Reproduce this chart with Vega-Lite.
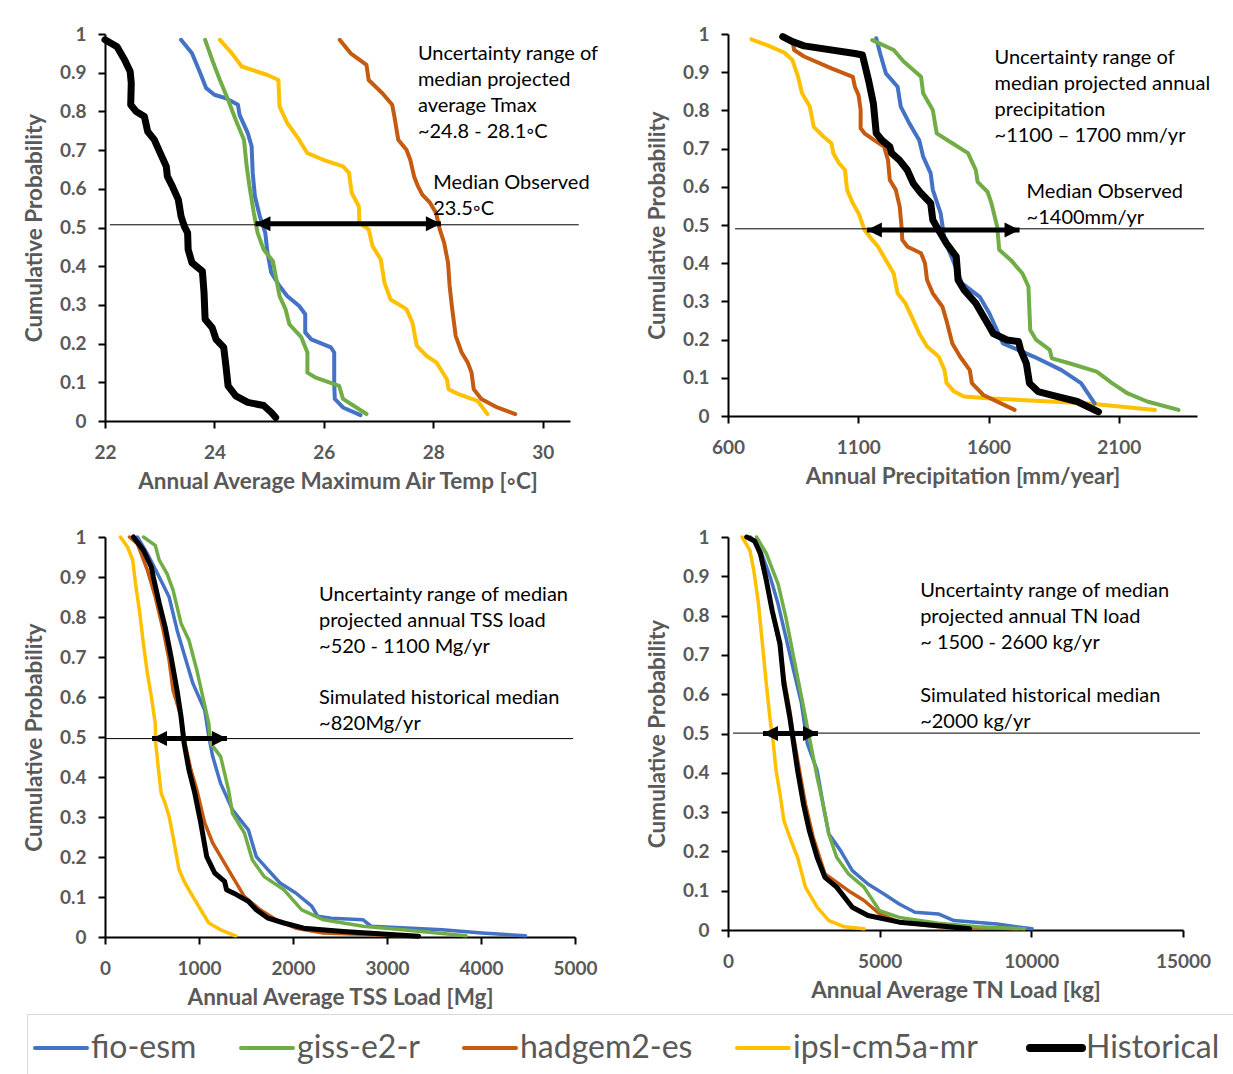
{
"$schema":"https://vega.github.io/schema/vega-lite/v6.json",
"background":"white",
"padding":{"left":23,"top":25,"right":5,"bottom":0},
"config":{
 "view":{"stroke":null},
 "font":"Lato",
 "axis":{"labelFont":"Lato","labelFontSize":19,"labelFontWeight":"bold","labelColor":"#595959","titleFont":"Lato","titleFontSize":22.5,"titleFontWeight":"bold","titleColor":"#595959","domainColor":"#000000","domainWidth":2,"tickColor":"#000000","tickWidth":2,"tickSize":7,"grid":false,"labelFlush":false,"labelOverlap":false,"labelSeparation":0},
 "axisX":{"labelPadding":15,"titlePadding":8,"format":"d"},
 "axisY":{"labelPadding":12,"titlePadding":13},
 "legend":{"orient":"none","legendX":-78,"legendY":980,"direction":"horizontal","title":null,"symbolType":"stroke","symbolSize":2704,"symbolStrokeWidth":4,"labelFont":"Lato","labelFontSize":32,"labelColor":"#595959","labelLimit":400,"labelOffset":14,"columnPadding":36,"strokeColor":"#d9d9d9","padding":18},
 "text":{"font":"Lato","fontSize":20,"color":"#000000","align":"left","baseline":"top","lineHeight":26}
},
"datasets":{
 "curves":[
{"panel":1,"series":"Historical","x":22.0,"p":0.985},{"panel":1,"series":"Historical","x":22.22,"p":0.967},{"panel":1,"series":"Historical","x":22.36,"p":0.933},{"panel":1,"series":"Historical","x":22.46,"p":0.903},{"panel":1,"series":"Historical","x":22.48,"p":0.873},{"panel":1,"series":"Historical","x":22.47,"p":0.817},{"panel":1,"series":"Historical","x":22.57,"p":0.8},{"panel":1,"series":"Historical","x":22.72,"p":0.787},{"panel":1,"series":"Historical","x":22.78,"p":0.748},{"panel":1,"series":"Historical","x":22.9,"p":0.727},{"panel":1,"series":"Historical","x":23.01,"p":0.692},{"panel":1,"series":"Historical","x":23.12,"p":0.658},{"panel":1,"series":"Historical","x":23.14,"p":0.632},{"panel":1,"series":"Historical","x":23.23,"p":0.607},{"panel":1,"series":"Historical","x":23.34,"p":0.572},{"panel":1,"series":"Historical","x":23.39,"p":0.529},{"panel":1,"series":"Historical","x":23.45,"p":0.503},{"panel":1,"series":"Historical","x":23.51,"p":0.486},{"panel":1,"series":"Historical","x":23.52,"p":0.443},{"panel":1,"series":"Historical","x":23.59,"p":0.409},{"panel":1,"series":"Historical","x":23.78,"p":0.387},{"panel":1,"series":"Historical","x":23.81,"p":0.332},{"panel":1,"series":"Historical","x":23.83,"p":0.263},{"panel":1,"series":"Historical","x":23.96,"p":0.241},{"panel":1,"series":"Historical","x":24.03,"p":0.211},{"panel":1,"series":"Historical","x":24.17,"p":0.19},{"panel":1,"series":"Historical","x":24.21,"p":0.143},{"panel":1,"series":"Historical","x":24.25,"p":0.091},{"panel":1,"series":"Historical","x":24.39,"p":0.065},{"panel":1,"series":"Historical","x":24.61,"p":0.048},{"panel":1,"series":"Historical","x":24.9,"p":0.04},{"panel":1,"series":"Historical","x":25.04,"p":0.022},{"panel":1,"series":"Historical","x":25.12,"p":0.009},
{"panel":1,"series":"fio-esm","x":23.39,"p":0.985},{"panel":1,"series":"fio-esm","x":23.59,"p":0.95},{"panel":1,"series":"fio-esm","x":23.74,"p":0.899},{"panel":1,"series":"fio-esm","x":23.85,"p":0.86},{"panel":1,"series":"fio-esm","x":24.0,"p":0.843},{"panel":1,"series":"fio-esm","x":24.21,"p":0.834},{"panel":1,"series":"fio-esm","x":24.43,"p":0.817},{"panel":1,"series":"fio-esm","x":24.46,"p":0.791},{"panel":1,"series":"fio-esm","x":24.61,"p":0.744},{"panel":1,"series":"fio-esm","x":24.68,"p":0.71},{"panel":1,"series":"fio-esm","x":24.7,"p":0.641},{"panel":1,"series":"fio-esm","x":24.74,"p":0.581},{"panel":1,"series":"fio-esm","x":24.83,"p":0.529},{"panel":1,"series":"fio-esm","x":24.93,"p":0.486},{"panel":1,"series":"fio-esm","x":24.97,"p":0.435},{"panel":1,"series":"fio-esm","x":25.04,"p":0.383},{"panel":1,"series":"fio-esm","x":25.19,"p":0.349},{"panel":1,"series":"fio-esm","x":25.33,"p":0.323},{"panel":1,"series":"fio-esm","x":25.55,"p":0.297},{"panel":1,"series":"fio-esm","x":25.66,"p":0.276},{"panel":1,"series":"fio-esm","x":25.66,"p":0.229},{"panel":1,"series":"fio-esm","x":25.77,"p":0.211},{"panel":1,"series":"fio-esm","x":26.13,"p":0.19},{"panel":1,"series":"fio-esm","x":26.19,"p":0.177},{"panel":1,"series":"fio-esm","x":26.19,"p":0.1},{"panel":1,"series":"fio-esm","x":26.2,"p":0.057},{"panel":1,"series":"fio-esm","x":26.35,"p":0.035},{"panel":1,"series":"fio-esm","x":26.67,"p":0.015},
{"panel":1,"series":"giss-e2-r","x":23.83,"p":0.985},{"panel":1,"series":"giss-e2-r","x":23.96,"p":0.933},{"panel":1,"series":"giss-e2-r","x":24.1,"p":0.881},{"panel":1,"series":"giss-e2-r","x":24.25,"p":0.83},{"panel":1,"series":"giss-e2-r","x":24.39,"p":0.778},{"panel":1,"series":"giss-e2-r","x":24.54,"p":0.727},{"panel":1,"series":"giss-e2-r","x":24.59,"p":0.658},{"panel":1,"series":"giss-e2-r","x":24.64,"p":0.607},{"panel":1,"series":"giss-e2-r","x":24.72,"p":0.538},{"panel":1,"series":"giss-e2-r","x":24.79,"p":0.486},{"panel":1,"series":"giss-e2-r","x":24.9,"p":0.443},{"panel":1,"series":"giss-e2-r","x":25.07,"p":0.413},{"panel":1,"series":"giss-e2-r","x":25.12,"p":0.375},{"panel":1,"series":"giss-e2-r","x":25.19,"p":0.323},{"panel":1,"series":"giss-e2-r","x":25.3,"p":0.289},{"panel":1,"series":"giss-e2-r","x":25.37,"p":0.25},{"panel":1,"series":"giss-e2-r","x":25.59,"p":0.216},{"panel":1,"series":"giss-e2-r","x":25.7,"p":0.177},{"panel":1,"series":"giss-e2-r","x":25.7,"p":0.125},{"panel":1,"series":"giss-e2-r","x":25.84,"p":0.113},{"panel":1,"series":"giss-e2-r","x":26.28,"p":0.091},{"panel":1,"series":"giss-e2-r","x":26.35,"p":0.057},{"panel":1,"series":"giss-e2-r","x":26.78,"p":0.018},
{"panel":1,"series":"hadgem2-es","x":26.29,"p":0.985},{"panel":1,"series":"hadgem2-es","x":26.49,"p":0.95},{"panel":1,"series":"hadgem2-es","x":26.78,"p":0.92},{"panel":1,"series":"hadgem2-es","x":26.82,"p":0.881},{"panel":1,"series":"hadgem2-es","x":27.07,"p":0.847},{"panel":1,"series":"hadgem2-es","x":27.25,"p":0.817},{"panel":1,"series":"hadgem2-es","x":27.29,"p":0.787},{"panel":1,"series":"hadgem2-es","x":27.36,"p":0.727},{"panel":1,"series":"hadgem2-es","x":27.51,"p":0.701},{"panel":1,"series":"hadgem2-es","x":27.58,"p":0.675},{"panel":1,"series":"hadgem2-es","x":27.65,"p":0.632},{"panel":1,"series":"hadgem2-es","x":27.72,"p":0.607},{"panel":1,"series":"hadgem2-es","x":27.8,"p":0.585},{"panel":1,"series":"hadgem2-es","x":27.94,"p":0.564},{"panel":1,"series":"hadgem2-es","x":28.05,"p":0.538},{"panel":1,"series":"hadgem2-es","x":28.12,"p":0.495},{"panel":1,"series":"hadgem2-es","x":28.2,"p":0.46},{"panel":1,"series":"hadgem2-es","x":28.27,"p":0.409},{"panel":1,"series":"hadgem2-es","x":28.3,"p":0.349},{"panel":1,"series":"hadgem2-es","x":28.34,"p":0.297},{"panel":1,"series":"hadgem2-es","x":28.41,"p":0.22},{"panel":1,"series":"hadgem2-es","x":28.52,"p":0.177},{"panel":1,"series":"hadgem2-es","x":28.63,"p":0.151},{"panel":1,"series":"hadgem2-es","x":28.7,"p":0.125},{"panel":1,"series":"hadgem2-es","x":28.74,"p":0.082},{"panel":1,"series":"hadgem2-es","x":28.88,"p":0.057},{"panel":1,"series":"hadgem2-es","x":29.17,"p":0.035},{"panel":1,"series":"hadgem2-es","x":29.5,"p":0.018},
{"panel":1,"series":"ipsl-cm5a-mr","x":24.1,"p":0.985},{"panel":1,"series":"ipsl-cm5a-mr","x":24.32,"p":0.95},{"panel":1,"series":"ipsl-cm5a-mr","x":24.5,"p":0.916},{"panel":1,"series":"ipsl-cm5a-mr","x":24.97,"p":0.894},{"panel":1,"series":"ipsl-cm5a-mr","x":25.17,"p":0.881},{"panel":1,"series":"ipsl-cm5a-mr","x":25.19,"p":0.813},{"panel":1,"series":"ipsl-cm5a-mr","x":25.33,"p":0.77},{"panel":1,"series":"ipsl-cm5a-mr","x":25.51,"p":0.735},{"panel":1,"series":"ipsl-cm5a-mr","x":25.7,"p":0.692},{"panel":1,"series":"ipsl-cm5a-mr","x":25.99,"p":0.675},{"panel":1,"series":"ipsl-cm5a-mr","x":26.35,"p":0.658},{"panel":1,"series":"ipsl-cm5a-mr","x":26.46,"p":0.641},{"panel":1,"series":"ipsl-cm5a-mr","x":26.51,"p":0.589},{"panel":1,"series":"ipsl-cm5a-mr","x":26.64,"p":0.555},{"panel":1,"series":"ipsl-cm5a-mr","x":26.65,"p":0.512},{"panel":1,"series":"ipsl-cm5a-mr","x":26.82,"p":0.495},{"panel":1,"series":"ipsl-cm5a-mr","x":26.89,"p":0.452},{"panel":1,"series":"ipsl-cm5a-mr","x":27.04,"p":0.418},{"panel":1,"series":"ipsl-cm5a-mr","x":27.11,"p":0.357},{"panel":1,"series":"ipsl-cm5a-mr","x":27.22,"p":0.314},{"panel":1,"series":"ipsl-cm5a-mr","x":27.51,"p":0.289},{"panel":1,"series":"ipsl-cm5a-mr","x":27.62,"p":0.254},{"panel":1,"series":"ipsl-cm5a-mr","x":27.7,"p":0.194},{"panel":1,"series":"ipsl-cm5a-mr","x":27.88,"p":0.168},{"panel":1,"series":"ipsl-cm5a-mr","x":28.06,"p":0.151},{"panel":1,"series":"ipsl-cm5a-mr","x":28.25,"p":0.108},{"panel":1,"series":"ipsl-cm5a-mr","x":28.28,"p":0.082},{"panel":1,"series":"ipsl-cm5a-mr","x":28.45,"p":0.07},{"panel":1,"series":"ipsl-cm5a-mr","x":28.81,"p":0.052},{"panel":1,"series":"ipsl-cm5a-mr","x":28.99,"p":0.018},
{"panel":2,"series":"ipsl-cm5a-mr","x":690,"p":0.986},{"panel":2,"series":"ipsl-cm5a-mr","x":757,"p":0.969},{"panel":2,"series":"ipsl-cm5a-mr","x":817,"p":0.951},{"panel":2,"series":"ipsl-cm5a-mr","x":847,"p":0.932},{"panel":2,"series":"ipsl-cm5a-mr","x":869,"p":0.888},{"panel":2,"series":"ipsl-cm5a-mr","x":884,"p":0.845},{"panel":2,"series":"ipsl-cm5a-mr","x":914,"p":0.81},{"panel":2,"series":"ipsl-cm5a-mr","x":929,"p":0.757},{"panel":2,"series":"ipsl-cm5a-mr","x":967,"p":0.731},{"panel":2,"series":"ipsl-cm5a-mr","x":997,"p":0.714},{"panel":2,"series":"ipsl-cm5a-mr","x":1004,"p":0.688},{"panel":2,"series":"ipsl-cm5a-mr","x":1027,"p":0.661},{"panel":2,"series":"ipsl-cm5a-mr","x":1049,"p":0.644},{"panel":2,"series":"ipsl-cm5a-mr","x":1057,"p":0.592},{"panel":2,"series":"ipsl-cm5a-mr","x":1079,"p":0.557},{"panel":2,"series":"ipsl-cm5a-mr","x":1101,"p":0.531},{"panel":2,"series":"ipsl-cm5a-mr","x":1124,"p":0.487},{"panel":2,"series":"ipsl-cm5a-mr","x":1154,"p":0.461},{"panel":2,"series":"ipsl-cm5a-mr","x":1176,"p":0.443},{"panel":2,"series":"ipsl-cm5a-mr","x":1206,"p":0.408},{"panel":2,"series":"ipsl-cm5a-mr","x":1236,"p":0.373},{"panel":2,"series":"ipsl-cm5a-mr","x":1251,"p":0.321},{"panel":2,"series":"ipsl-cm5a-mr","x":1281,"p":0.295},{"panel":2,"series":"ipsl-cm5a-mr","x":1311,"p":0.251},{"panel":2,"series":"ipsl-cm5a-mr","x":1334,"p":0.216},{"panel":2,"series":"ipsl-cm5a-mr","x":1364,"p":0.182},{"panel":2,"series":"ipsl-cm5a-mr","x":1409,"p":0.155},{"panel":2,"series":"ipsl-cm5a-mr","x":1431,"p":0.12},{"panel":2,"series":"ipsl-cm5a-mr","x":1439,"p":0.086},{"panel":2,"series":"ipsl-cm5a-mr","x":1468,"p":0.064},{"panel":2,"series":"ipsl-cm5a-mr","x":1506,"p":0.051},{"panel":2,"series":"ipsl-cm5a-mr","x":1610,"p":0.046},{"panel":2,"series":"ipsl-cm5a-mr","x":1985,"p":0.033},{"panel":2,"series":"ipsl-cm5a-mr","x":2239,"p":0.016},
{"panel":2,"series":"hadgem2-es","x":847,"p":0.984},{"panel":2,"series":"hadgem2-es","x":854,"p":0.958},{"panel":2,"series":"hadgem2-es","x":892,"p":0.941},{"panel":2,"series":"hadgem2-es","x":997,"p":0.91},{"panel":2,"series":"hadgem2-es","x":1079,"p":0.888},{"panel":2,"series":"hadgem2-es","x":1087,"p":0.862},{"panel":2,"series":"hadgem2-es","x":1101,"p":0.84},{"panel":2,"series":"hadgem2-es","x":1109,"p":0.801},{"panel":2,"series":"hadgem2-es","x":1109,"p":0.753},{"panel":2,"series":"hadgem2-es","x":1124,"p":0.74},{"panel":2,"series":"hadgem2-es","x":1161,"p":0.722},{"panel":2,"series":"hadgem2-es","x":1199,"p":0.705},{"panel":2,"series":"hadgem2-es","x":1214,"p":0.67},{"panel":2,"series":"hadgem2-es","x":1221,"p":0.618},{"panel":2,"series":"hadgem2-es","x":1244,"p":0.592},{"panel":2,"series":"hadgem2-es","x":1259,"p":0.548},{"panel":2,"series":"hadgem2-es","x":1266,"p":0.496},{"panel":2,"series":"hadgem2-es","x":1269,"p":0.461},{"panel":2,"series":"hadgem2-es","x":1289,"p":0.443},{"panel":2,"series":"hadgem2-es","x":1341,"p":0.426},{"panel":2,"series":"hadgem2-es","x":1356,"p":0.4},{"panel":2,"series":"hadgem2-es","x":1364,"p":0.356},{"panel":2,"series":"hadgem2-es","x":1386,"p":0.321},{"panel":2,"series":"hadgem2-es","x":1423,"p":0.286},{"panel":2,"series":"hadgem2-es","x":1438,"p":0.251},{"panel":2,"series":"hadgem2-es","x":1461,"p":0.19},{"panel":2,"series":"hadgem2-es","x":1491,"p":0.155},{"panel":2,"series":"hadgem2-es","x":1528,"p":0.12},{"panel":2,"series":"hadgem2-es","x":1536,"p":0.086},{"panel":2,"series":"hadgem2-es","x":1580,"p":0.055},{"panel":2,"series":"hadgem2-es","x":1700,"p":0.016},
{"panel":2,"series":"Historical","x":810,"p":0.993},{"panel":2,"series":"Historical","x":847,"p":0.98},{"panel":2,"series":"Historical","x":892,"p":0.969},{"panel":2,"series":"Historical","x":1087,"p":0.949},{"panel":2,"series":"Historical","x":1116,"p":0.945},{"panel":2,"series":"Historical","x":1139,"p":0.88},{"panel":2,"series":"Historical","x":1158,"p":0.818},{"panel":2,"series":"Historical","x":1169,"p":0.74},{"panel":2,"series":"Historical","x":1191,"p":0.722},{"panel":2,"series":"Historical","x":1221,"p":0.705},{"panel":2,"series":"Historical","x":1228,"p":0.688},{"panel":2,"series":"Historical","x":1258,"p":0.67},{"panel":2,"series":"Historical","x":1288,"p":0.644},{"panel":2,"series":"Historical","x":1311,"p":0.609},{"panel":2,"series":"Historical","x":1341,"p":0.583},{"panel":2,"series":"Historical","x":1378,"p":0.557},{"panel":2,"series":"Historical","x":1386,"p":0.513},{"panel":2,"series":"Historical","x":1408,"p":0.487},{"panel":2,"series":"Historical","x":1438,"p":0.452},{"panel":2,"series":"Historical","x":1476,"p":0.417},{"panel":2,"series":"Historical","x":1483,"p":0.356},{"panel":2,"series":"Historical","x":1506,"p":0.33},{"panel":2,"series":"Historical","x":1551,"p":0.295},{"panel":2,"series":"Historical","x":1581,"p":0.26},{"panel":2,"series":"Historical","x":1603,"p":0.234},{"panel":2,"series":"Historical","x":1618,"p":0.216},{"panel":2,"series":"Historical","x":1671,"p":0.199},{"panel":2,"series":"Historical","x":1715,"p":0.195},{"panel":2,"series":"Historical","x":1723,"p":0.173},{"panel":2,"series":"Historical","x":1745,"p":0.138},{"panel":2,"series":"Historical","x":1757,"p":0.086},{"panel":2,"series":"Historical","x":1790,"p":0.064},{"panel":2,"series":"Historical","x":1865,"p":0.051},{"panel":2,"series":"Historical","x":1940,"p":0.038},{"panel":2,"series":"Historical","x":2022,"p":0.011},
{"panel":2,"series":"fio-esm","x":1169,"p":0.989},{"panel":2,"series":"fio-esm","x":1184,"p":0.949},{"panel":2,"series":"fio-esm","x":1206,"p":0.897},{"panel":2,"series":"fio-esm","x":1251,"p":0.862},{"panel":2,"series":"fio-esm","x":1263,"p":0.81},{"panel":2,"series":"fio-esm","x":1296,"p":0.766},{"panel":2,"series":"fio-esm","x":1334,"p":0.722},{"panel":2,"series":"fio-esm","x":1349,"p":0.679},{"panel":2,"series":"fio-esm","x":1378,"p":0.635},{"panel":2,"series":"fio-esm","x":1386,"p":0.592},{"panel":2,"series":"fio-esm","x":1416,"p":0.531},{"panel":2,"series":"fio-esm","x":1431,"p":0.461},{"panel":2,"series":"fio-esm","x":1468,"p":0.4},{"panel":2,"series":"fio-esm","x":1498,"p":0.347},{"panel":2,"series":"fio-esm","x":1566,"p":0.312},{"panel":2,"series":"fio-esm","x":1603,"p":0.269},{"panel":2,"series":"fio-esm","x":1655,"p":0.19},{"panel":2,"series":"fio-esm","x":1775,"p":0.155},{"panel":2,"series":"fio-esm","x":1880,"p":0.12},{"panel":2,"series":"fio-esm","x":1955,"p":0.086},{"panel":2,"series":"fio-esm","x":2007,"p":0.033},
{"panel":2,"series":"giss-e2-r","x":1154,"p":0.984},{"panel":2,"series":"giss-e2-r","x":1236,"p":0.958},{"panel":2,"series":"giss-e2-r","x":1274,"p":0.928},{"panel":2,"series":"giss-e2-r","x":1341,"p":0.888},{"panel":2,"series":"giss-e2-r","x":1349,"p":0.845},{"panel":2,"series":"giss-e2-r","x":1386,"p":0.801},{"panel":2,"series":"giss-e2-r","x":1401,"p":0.74},{"panel":2,"series":"giss-e2-r","x":1461,"p":0.714},{"panel":2,"series":"giss-e2-r","x":1521,"p":0.688},{"panel":2,"series":"giss-e2-r","x":1551,"p":0.644},{"panel":2,"series":"giss-e2-r","x":1558,"p":0.613},{"panel":2,"series":"giss-e2-r","x":1596,"p":0.587},{"panel":2,"series":"giss-e2-r","x":1611,"p":0.557},{"panel":2,"series":"giss-e2-r","x":1633,"p":0.496},{"panel":2,"series":"giss-e2-r","x":1641,"p":0.435},{"panel":2,"series":"giss-e2-r","x":1686,"p":0.408},{"panel":2,"series":"giss-e2-r","x":1730,"p":0.373},{"panel":2,"series":"giss-e2-r","x":1753,"p":0.339},{"panel":2,"series":"giss-e2-r","x":1760,"p":0.225},{"panel":2,"series":"giss-e2-r","x":1783,"p":0.199},{"panel":2,"series":"giss-e2-r","x":1835,"p":0.173},{"panel":2,"series":"giss-e2-r","x":1843,"p":0.151},{"panel":2,"series":"giss-e2-r","x":1910,"p":0.138},{"panel":2,"series":"giss-e2-r","x":2015,"p":0.116},{"panel":2,"series":"giss-e2-r","x":2074,"p":0.086},{"panel":2,"series":"giss-e2-r","x":2134,"p":0.059},{"panel":2,"series":"giss-e2-r","x":2209,"p":0.038},{"panel":2,"series":"giss-e2-r","x":2329,"p":0.016},
{"panel":3,"series":"ipsl-cm5a-mr","x":164,"p":1.0},{"panel":3,"series":"ipsl-cm5a-mr","x":240,"p":0.975},{"panel":3,"series":"ipsl-cm5a-mr","x":295,"p":0.942},{"panel":3,"series":"ipsl-cm5a-mr","x":324,"p":0.884},{"panel":3,"series":"ipsl-cm5a-mr","x":366,"p":0.817},{"panel":3,"series":"ipsl-cm5a-mr","x":408,"p":0.734},{"panel":3,"series":"ipsl-cm5a-mr","x":451,"p":0.659},{"panel":3,"series":"ipsl-cm5a-mr","x":493,"p":0.601},{"panel":3,"series":"ipsl-cm5a-mr","x":535,"p":0.534},{"panel":3,"series":"ipsl-cm5a-mr","x":540,"p":0.484},{"panel":3,"series":"ipsl-cm5a-mr","x":569,"p":0.418},{"panel":3,"series":"ipsl-cm5a-mr","x":598,"p":0.359},{"panel":3,"series":"ipsl-cm5a-mr","x":640,"p":0.334},{"panel":3,"series":"ipsl-cm5a-mr","x":682,"p":0.301},{"panel":3,"series":"ipsl-cm5a-mr","x":724,"p":0.251},{"panel":3,"series":"ipsl-cm5a-mr","x":788,"p":0.168},{"panel":3,"series":"ipsl-cm5a-mr","x":851,"p":0.135},{"panel":3,"series":"ipsl-cm5a-mr","x":935,"p":0.101},{"panel":3,"series":"ipsl-cm5a-mr","x":1019,"p":0.068},{"panel":3,"series":"ipsl-cm5a-mr","x":1104,"p":0.035},{"panel":3,"series":"ipsl-cm5a-mr","x":1230,"p":0.018},{"panel":3,"series":"ipsl-cm5a-mr","x":1390,"p":0.003},
{"panel":3,"series":"hadgem2-es","x":261,"p":1.0},{"panel":3,"series":"hadgem2-es","x":345,"p":0.983},{"panel":3,"series":"hadgem2-es","x":451,"p":0.917},{"panel":3,"series":"hadgem2-es","x":535,"p":0.85},{"panel":3,"series":"hadgem2-es","x":619,"p":0.767},{"panel":3,"series":"hadgem2-es","x":682,"p":0.692},{"panel":3,"series":"hadgem2-es","x":724,"p":0.617},{"panel":3,"series":"hadgem2-es","x":809,"p":0.551},{"panel":3,"series":"hadgem2-es","x":851,"p":0.484},{"panel":3,"series":"hadgem2-es","x":914,"p":0.418},{"panel":3,"series":"hadgem2-es","x":977,"p":0.368},{"panel":3,"series":"hadgem2-es","x":1061,"p":0.285},{"panel":3,"series":"hadgem2-es","x":1146,"p":0.235},{"panel":3,"series":"hadgem2-es","x":1251,"p":0.193},{"panel":3,"series":"hadgem2-es","x":1356,"p":0.151},{"panel":3,"series":"hadgem2-es","x":1483,"p":0.101},{"panel":3,"series":"hadgem2-es","x":1651,"p":0.068},{"panel":3,"series":"hadgem2-es","x":1820,"p":0.043},{"panel":3,"series":"hadgem2-es","x":2030,"p":0.022},{"panel":3,"series":"hadgem2-es","x":2325,"p":0.01},{"panel":3,"series":"hadgem2-es","x":3167,"p":0.003},
{"panel":3,"series":"Historical","x":303,"p":1.0},{"panel":3,"series":"Historical","x":409,"p":0.967},{"panel":3,"series":"Historical","x":493,"p":0.925},{"panel":3,"series":"Historical","x":514,"p":0.9},{"panel":3,"series":"Historical","x":577,"p":0.834},{"panel":3,"series":"Historical","x":640,"p":0.775},{"panel":3,"series":"Historical","x":703,"p":0.7},{"panel":3,"series":"Historical","x":766,"p":0.617},{"panel":3,"series":"Historical","x":809,"p":0.551},{"panel":3,"series":"Historical","x":842,"p":0.484},{"panel":3,"series":"Historical","x":893,"p":0.418},{"panel":3,"series":"Historical","x":956,"p":0.359},{"panel":3,"series":"Historical","x":1019,"p":0.285},{"panel":3,"series":"Historical","x":1082,"p":0.201},{"panel":3,"series":"Historical","x":1167,"p":0.16},{"panel":3,"series":"Historical","x":1272,"p":0.139},{"panel":3,"series":"Historical","x":1293,"p":0.118},{"panel":3,"series":"Historical","x":1398,"p":0.106},{"panel":3,"series":"Historical","x":1525,"p":0.089},{"panel":3,"series":"Historical","x":1609,"p":0.068},{"panel":3,"series":"Historical","x":1735,"p":0.047},{"panel":3,"series":"Historical","x":1904,"p":0.035},{"panel":3,"series":"Historical","x":2114,"p":0.022},{"panel":3,"series":"Historical","x":2536,"p":0.014},{"panel":3,"series":"Historical","x":3336,"p":0.002},
{"panel":3,"series":"fio-esm","x":345,"p":1.0},{"panel":3,"series":"fio-esm","x":451,"p":0.958},{"panel":3,"series":"fio-esm","x":577,"p":0.9},{"panel":3,"series":"fio-esm","x":682,"p":0.85},{"panel":3,"series":"fio-esm","x":767,"p":0.767},{"panel":3,"series":"fio-esm","x":851,"p":0.7},{"panel":3,"series":"fio-esm","x":935,"p":0.634},{"panel":3,"series":"fio-esm","x":1061,"p":0.567},{"panel":3,"series":"fio-esm","x":1104,"p":0.501},{"panel":3,"series":"fio-esm","x":1146,"p":0.451},{"panel":3,"series":"fio-esm","x":1230,"p":0.384},{"panel":3,"series":"fio-esm","x":1356,"p":0.318},{"panel":3,"series":"fio-esm","x":1525,"p":0.268},{"panel":3,"series":"fio-esm","x":1609,"p":0.201},{"panel":3,"series":"fio-esm","x":1735,"p":0.168},{"panel":3,"series":"fio-esm","x":1862,"p":0.135},{"panel":3,"series":"fio-esm","x":2030,"p":0.11},{"panel":3,"series":"fio-esm","x":2199,"p":0.077},{"panel":3,"series":"fio-esm","x":2262,"p":0.052},{"panel":3,"series":"fio-esm","x":2409,"p":0.047},{"panel":3,"series":"fio-esm","x":2746,"p":0.043},{"panel":3,"series":"fio-esm","x":2830,"p":0.027},{"panel":3,"series":"fio-esm","x":3589,"p":0.018},{"panel":3,"series":"fio-esm","x":4010,"p":0.01},{"panel":3,"series":"fio-esm","x":4473,"p":0.003},
{"panel":3,"series":"giss-e2-r","x":409,"p":1.0},{"panel":3,"series":"giss-e2-r","x":535,"p":0.979},{"panel":3,"series":"giss-e2-r","x":577,"p":0.942},{"panel":3,"series":"giss-e2-r","x":661,"p":0.908},{"panel":3,"series":"giss-e2-r","x":724,"p":0.867},{"panel":3,"series":"giss-e2-r","x":809,"p":0.784},{"panel":3,"series":"giss-e2-r","x":893,"p":0.742},{"panel":3,"series":"giss-e2-r","x":977,"p":0.667},{"panel":3,"series":"giss-e2-r","x":1040,"p":0.601},{"panel":3,"series":"giss-e2-r","x":1104,"p":0.534},{"panel":3,"series":"giss-e2-r","x":1125,"p":0.484},{"panel":3,"series":"giss-e2-r","x":1230,"p":0.451},{"panel":3,"series":"giss-e2-r","x":1314,"p":0.368},{"panel":3,"series":"giss-e2-r","x":1356,"p":0.309},{"panel":3,"series":"giss-e2-r","x":1483,"p":0.26},{"panel":3,"series":"giss-e2-r","x":1567,"p":0.193},{"panel":3,"series":"giss-e2-r","x":1693,"p":0.151},{"panel":3,"series":"giss-e2-r","x":1904,"p":0.118},{"panel":3,"series":"giss-e2-r","x":2093,"p":0.068},{"panel":3,"series":"giss-e2-r","x":2325,"p":0.043},{"panel":3,"series":"giss-e2-r","x":2746,"p":0.027},{"panel":3,"series":"giss-e2-r","x":3167,"p":0.018},{"panel":3,"series":"giss-e2-r","x":3841,"p":0.003},
{"panel":4,"series":"ipsl-cm5a-mr","x":464,"p":1.0},{"panel":4,"series":"ipsl-cm5a-mr","x":722,"p":0.966},{"panel":4,"series":"ipsl-cm5a-mr","x":851,"p":0.915},{"panel":4,"series":"ipsl-cm5a-mr","x":1005,"p":0.83},{"panel":4,"series":"ipsl-cm5a-mr","x":1134,"p":0.728},{"panel":4,"series":"ipsl-cm5a-mr","x":1263,"p":0.626},{"panel":4,"series":"ipsl-cm5a-mr","x":1392,"p":0.533},{"panel":4,"series":"ipsl-cm5a-mr","x":1495,"p":0.474},{"panel":4,"series":"ipsl-cm5a-mr","x":1585,"p":0.406},{"panel":4,"series":"ipsl-cm5a-mr","x":1714,"p":0.346},{"panel":4,"series":"ipsl-cm5a-mr","x":1843,"p":0.278},{"panel":4,"series":"ipsl-cm5a-mr","x":2036,"p":0.236},{"panel":4,"series":"ipsl-cm5a-mr","x":2294,"p":0.185},{"panel":4,"series":"ipsl-cm5a-mr","x":2552,"p":0.109},{"panel":4,"series":"ipsl-cm5a-mr","x":2938,"p":0.058},{"panel":4,"series":"ipsl-cm5a-mr","x":3325,"p":0.024},{"panel":4,"series":"ipsl-cm5a-mr","x":3840,"p":0.008},{"panel":4,"series":"ipsl-cm5a-mr","x":4485,"p":0.003},
{"panel":4,"series":"hadgem2-es","x":593,"p":1.0},{"panel":4,"series":"hadgem2-es","x":876,"p":0.992},{"panel":4,"series":"hadgem2-es","x":1070,"p":0.949},{"panel":4,"series":"hadgem2-es","x":1263,"p":0.89},{"panel":4,"series":"hadgem2-es","x":1495,"p":0.796},{"panel":4,"series":"hadgem2-es","x":1714,"p":0.72},{"panel":4,"series":"hadgem2-es","x":1843,"p":0.643},{"panel":4,"series":"hadgem2-es","x":2036,"p":0.559},{"panel":4,"series":"hadgem2-es","x":2165,"p":0.491},{"panel":4,"series":"hadgem2-es","x":2358,"p":0.406},{"panel":4,"series":"hadgem2-es","x":2552,"p":0.321},{"panel":4,"series":"hadgem2-es","x":2809,"p":0.236},{"panel":4,"series":"hadgem2-es","x":3196,"p":0.143},{"panel":4,"series":"hadgem2-es","x":3969,"p":0.1},{"panel":4,"series":"hadgem2-es","x":4485,"p":0.075},{"panel":4,"series":"hadgem2-es","x":4999,"p":0.041},{"panel":4,"series":"hadgem2-es","x":5644,"p":0.02},{"panel":4,"series":"hadgem2-es","x":6933,"p":0.008},{"panel":4,"series":"hadgem2-es","x":9510,"p":0.003},
{"panel":4,"series":"Historical","x":619,"p":1.0},{"panel":4,"series":"Historical","x":876,"p":0.99},{"panel":4,"series":"Historical","x":1070,"p":0.958},{"panel":4,"series":"Historical","x":1263,"p":0.89},{"panel":4,"series":"Historical","x":1456,"p":0.813},{"panel":4,"series":"Historical","x":1714,"p":0.728},{"panel":4,"series":"Historical","x":1843,"p":0.626},{"panel":4,"series":"Historical","x":2036,"p":0.542},{"panel":4,"series":"Historical","x":2165,"p":0.474},{"panel":4,"series":"Historical","x":2294,"p":0.406},{"panel":4,"series":"Historical","x":2487,"p":0.321},{"panel":4,"series":"Historical","x":2680,"p":0.253},{"panel":4,"series":"Historical","x":2938,"p":0.185},{"panel":4,"series":"Historical","x":3196,"p":0.134},{"panel":4,"series":"Historical","x":3582,"p":0.109},{"panel":4,"series":"Historical","x":4098,"p":0.058},{"panel":4,"series":"Historical","x":4614,"p":0.037},{"panel":4,"series":"Historical","x":5644,"p":0.02},{"panel":4,"series":"Historical","x":6933,"p":0.011},{"panel":4,"series":"Historical","x":7964,"p":0.003},
{"panel":4,"series":"fio-esm","x":747,"p":1.0},{"panel":4,"series":"fio-esm","x":1070,"p":0.966},{"panel":4,"series":"fio-esm","x":1392,"p":0.898},{"panel":4,"series":"fio-esm","x":1650,"p":0.83},{"panel":4,"series":"fio-esm","x":1907,"p":0.745},{"panel":4,"series":"fio-esm","x":2165,"p":0.66},{"panel":4,"series":"fio-esm","x":2423,"p":0.576},{"panel":4,"series":"fio-esm","x":2616,"p":0.474},{"panel":4,"series":"fio-esm","x":2938,"p":0.406},{"panel":4,"series":"fio-esm","x":3132,"p":0.321},{"panel":4,"series":"fio-esm","x":3325,"p":0.244},{"panel":4,"series":"fio-esm","x":3711,"p":0.202},{"panel":4,"series":"fio-esm","x":4098,"p":0.151},{"panel":4,"series":"fio-esm","x":4614,"p":0.117},{"panel":4,"series":"fio-esm","x":5129,"p":0.092},{"panel":4,"series":"fio-esm","x":5644,"p":0.066},{"panel":4,"series":"fio-esm","x":6160,"p":0.045},{"panel":4,"series":"fio-esm","x":6933,"p":0.041},{"panel":4,"series":"fio-esm","x":7449,"p":0.024},{"panel":4,"series":"fio-esm","x":8866,"p":0.015},{"panel":4,"series":"fio-esm","x":10026,"p":0.003},
{"panel":4,"series":"giss-e2-r","x":941,"p":1.0},{"panel":4,"series":"giss-e2-r","x":1263,"p":0.958},{"panel":4,"series":"giss-e2-r","x":1650,"p":0.881},{"panel":4,"series":"giss-e2-r","x":1907,"p":0.796},{"panel":4,"series":"giss-e2-r","x":2165,"p":0.694},{"panel":4,"series":"giss-e2-r","x":2423,"p":0.593},{"panel":4,"series":"giss-e2-r","x":2680,"p":0.491},{"panel":4,"series":"giss-e2-r","x":2938,"p":0.389},{"panel":4,"series":"giss-e2-r","x":3132,"p":0.321},{"panel":4,"series":"giss-e2-r","x":3325,"p":0.244},{"panel":4,"series":"giss-e2-r","x":3582,"p":0.185},{"panel":4,"series":"giss-e2-r","x":3969,"p":0.143},{"panel":4,"series":"giss-e2-r","x":4485,"p":0.109},{"panel":4,"series":"giss-e2-r","x":4999,"p":0.049},{"panel":4,"series":"giss-e2-r","x":5644,"p":0.032},{"panel":4,"series":"giss-e2-r","x":6933,"p":0.017},{"panel":4,"series":"giss-e2-r","x":8222,"p":0.008},{"panel":4,"series":"giss-e2-r","x":9768,"p":0.003}
 ],
 "refs":[{"panel":1,"x":22.09,"xe":30.66,"p":0.507},{"panel":2,"x":627,"xe":2427,"p":0.49},{"panel":3,"x":0,"xe":4980,"p":0.496},{"panel":4,"x":165,"xe":15560,"p":0.501}],
 "arrows":[{"panel":1,"x":24.75,"xe":28.14,"p":0.51},{"panel":2,"x":1133,"xe":1719,"p":0.487},{"panel":3,"x":500,"xe":1298,"p":0.496},{"panel":4,"x":1154,"xe":2967,"p":0.5}],
 "notes":[
  {"panel":1,"x":27.72,"p":0.973,"t":["Uncertainty range of","median projected","average Tmax","~24.8 - 28.1◦C"]},
  {"panel":1,"x":28.0,"p":0.642,"t":["Median Observed","\u00a0\u00a023.5◦C"]},
  {"panel":2,"x":1623,"p":0.963,"t":["Uncertainty range of","median projected annual","precipitation","~1100 – 1700 mm/yr"]},
  {"panel":2,"x":1746,"p":0.612,"t":["Median Observed","~1400mm/yr"]},
  {"panel":3,"x":2277,"p":0.88,"t":["Uncertainty range of median","projected annual TSS load","~520 - 1100 Mg/yr"]},
  {"panel":3,"x":2277,"p":0.6225,"t":["Simulated historical median","~820Mg/yr"]},
  {"panel":4,"x":6335,"p":0.888,"t":["Uncertainty range of median","projected annual TN load","~ 1500 - 2600 kg/yr"]},
  {"panel":4,"x":6335,"p":0.62,"t":["Simulated historical median","~2000 kg/yr"]}
 ]
},
"columns":2,
"bounds":"flush",
"spacing":{"row":116,"column":153},
"resolve":{"scale":{"color":"shared"}},
"concat":[
  {"width":465,"height":387,"layer":[
   {"data":{"name":"curves"},"transform":[{"filter":"datum.panel==1 && datum.series!='Historical'"}],"mark":{"type":"line","strokeWidth":4,"strokeCap":"round","strokeJoin":"round"},
    "encoding":{"x":{"field":"x","type":"quantitative","scale":{"domain":[22,30.5],"nice":false,"zero":false},"axis":{"title":"Annual Average Maximum Air Temp [◦C]","values":[22,24,26,28,30]}},
     "y":{"field":"p","type":"quantitative","scale":{"domain":[0,1],"nice":false,"zero":false},"axis":{"title":"Cumulative Probability","values":[0,0.1,0.2,0.3,0.4,0.5,0.6,0.7,0.8,0.9,1],"format":"~g","labelOverlap":false,"tickCount":11}},
     "color":{"field":"series","type":"nominal","scale":{"domain":["fio-esm","giss-e2-r","hadgem2-es","ipsl-cm5a-mr","Historical"],"range":["#4472C4","#70AD47","#C55A11","#FFC000","#000000"]},"legend":{"encode":{"symbols":{"update":{"strokeWidth":{"signal":"datum.value === 'Historical' ? 8 : 4"},"strokeCap":{"value":"round"}}}}}},
     "order":{"field":"p","sort":"descending"}}},
   {"data":{"name":"curves"},"transform":[{"filter":"datum.panel==1 && datum.series=='Historical'"}],"mark":{"type":"line","strokeWidth":7,"strokeCap":"round","strokeJoin":"round"},
    "encoding":{"x":{"field":"x","type":"quantitative","scale":{"domain":[22,30.5],"nice":false,"zero":false}},"y":{"field":"p","type":"quantitative","scale":{"domain":[0,1],"nice":false,"zero":false}},
     "color":{"field":"series","type":"nominal","scale":{"domain":["fio-esm","giss-e2-r","hadgem2-es","ipsl-cm5a-mr","Historical"],"range":["#4472C4","#70AD47","#C55A11","#FFC000","#000000"]}},"order":{"field":"p","sort":"descending"}}},
   {"data":{"name":"refs"},"transform":[{"filter":"datum.panel==1"}],"mark":{"type":"rule","color":"#000000","strokeWidth":1},
    "encoding":{"x":{"field":"x","type":"quantitative","scale":{"domain":[22,30.5],"nice":false,"zero":false}},"x2":{"field":"xe"},"y":{"field":"p","type":"quantitative","scale":{"domain":[0,1],"nice":false,"zero":false}}}},
   {"data":{"name":"arrows"},"transform":[{"filter":"datum.panel==1"}],"mark":{"type":"rule","color":"#000000","strokeWidth":5},
    "encoding":{"x":{"field":"x","type":"quantitative","scale":{"domain":[22,30.5],"nice":false,"zero":false}},"x2":{"field":"xe"},"y":{"field":"p","type":"quantitative","scale":{"domain":[0,1],"nice":false,"zero":false}}}},
   {"data":{"name":"arrows"},"transform":[{"filter":"datum.panel==1"}],"mark":{"type":"point","filled":true,"opacity":1,"color":"#000000","size":900,"shape":"M0,0L1,-0.5L1,0.5Z"},
    "encoding":{"x":{"field":"x","type":"quantitative","scale":{"domain":[22,30.5],"nice":false,"zero":false}},"y":{"field":"p","type":"quantitative","scale":{"domain":[0,1],"nice":false,"zero":false}}}},
   {"data":{"name":"arrows"},"transform":[{"filter":"datum.panel==1"}],"mark":{"type":"point","filled":true,"opacity":1,"color":"#000000","size":900,"shape":"M0,0L-1,-0.5L-1,0.5Z"},
    "encoding":{"x":{"field":"xe","type":"quantitative","scale":{"domain":[22,30.5],"nice":false,"zero":false}},"y":{"field":"p","type":"quantitative","scale":{"domain":[0,1],"nice":false,"zero":false}}}},
   {"data":{"name":"notes"},"transform":[{"filter":"datum.panel==1"}],"mark":{"type":"text"},
    "encoding":{"x":{"field":"x","type":"quantitative","scale":{"domain":[22,30.5],"nice":false,"zero":false}},"y":{"field":"p","type":"quantitative","scale":{"domain":[0,1],"nice":false,"zero":false}},"text":{"field":"t"}}}
  ]},
  {"width":469,"height":382,"layer":[
   {"data":{"name":"curves"},"transform":[{"filter":"datum.panel==2 && datum.series!='Historical'"}],"mark":{"type":"line","strokeWidth":4,"strokeCap":"round","strokeJoin":"round"},
    "encoding":{"x":{"field":"x","type":"quantitative","scale":{"domain":[600,2400],"nice":false,"zero":false},"axis":{"title":"Annual Precipitation [mm/year]","values":[600,1100,1600,2100]}},
     "y":{"field":"p","type":"quantitative","scale":{"domain":[0,1],"nice":false,"zero":false},"axis":{"title":"Cumulative Probability","values":[0,0.1,0.2,0.3,0.4,0.5,0.6,0.7,0.8,0.9,1],"format":"~g","labelOverlap":false,"tickCount":11}},
     "color":{"field":"series","type":"nominal","scale":{"domain":["fio-esm","giss-e2-r","hadgem2-es","ipsl-cm5a-mr","Historical"],"range":["#4472C4","#70AD47","#C55A11","#FFC000","#000000"]}},
     "order":{"field":"p","sort":"descending"}}},
   {"data":{"name":"curves"},"transform":[{"filter":"datum.panel==2 && datum.series=='Historical'"}],"mark":{"type":"line","strokeWidth":7,"strokeCap":"round","strokeJoin":"round"},
    "encoding":{"x":{"field":"x","type":"quantitative","scale":{"domain":[600,2400],"nice":false,"zero":false}},"y":{"field":"p","type":"quantitative","scale":{"domain":[0,1],"nice":false,"zero":false}},
     "color":{"field":"series","type":"nominal","scale":{"domain":["fio-esm","giss-e2-r","hadgem2-es","ipsl-cm5a-mr","Historical"],"range":["#4472C4","#70AD47","#C55A11","#FFC000","#000000"]}},"order":{"field":"p","sort":"descending"}}},
   {"data":{"name":"refs"},"transform":[{"filter":"datum.panel==2"}],"mark":{"type":"rule","color":"#000000","strokeWidth":1},
    "encoding":{"x":{"field":"x","type":"quantitative","scale":{"domain":[600,2400],"nice":false,"zero":false}},"x2":{"field":"xe"},"y":{"field":"p","type":"quantitative","scale":{"domain":[0,1],"nice":false,"zero":false}}}},
   {"data":{"name":"arrows"},"transform":[{"filter":"datum.panel==2"}],"mark":{"type":"rule","color":"#000000","strokeWidth":5},
    "encoding":{"x":{"field":"x","type":"quantitative","scale":{"domain":[600,2400],"nice":false,"zero":false}},"x2":{"field":"xe"},"y":{"field":"p","type":"quantitative","scale":{"domain":[0,1],"nice":false,"zero":false}}}},
   {"data":{"name":"arrows"},"transform":[{"filter":"datum.panel==2"}],"mark":{"type":"point","filled":true,"opacity":1,"color":"#000000","size":900,"shape":"M0,0L1,-0.5L1,0.5Z"},
    "encoding":{"x":{"field":"x","type":"quantitative","scale":{"domain":[600,2400],"nice":false,"zero":false}},"y":{"field":"p","type":"quantitative","scale":{"domain":[0,1],"nice":false,"zero":false}}}},
   {"data":{"name":"arrows"},"transform":[{"filter":"datum.panel==2"}],"mark":{"type":"point","filled":true,"opacity":1,"color":"#000000","size":900,"shape":"M0,0L-1,-0.5L-1,0.5Z"},
    "encoding":{"x":{"field":"xe","type":"quantitative","scale":{"domain":[600,2400],"nice":false,"zero":false}},"y":{"field":"p","type":"quantitative","scale":{"domain":[0,1],"nice":false,"zero":false}}}},
   {"data":{"name":"notes"},"transform":[{"filter":"datum.panel==2"}],"mark":{"type":"text"},
    "encoding":{"x":{"field":"x","type":"quantitative","scale":{"domain":[600,2400],"nice":false,"zero":false}},"y":{"field":"p","type":"quantitative","scale":{"domain":[0,1],"nice":false,"zero":false}},"text":{"field":"t"}}}
  ]},
  {"width":470,"height":400,"layer":[
   {"data":{"name":"curves"},"transform":[{"filter":"datum.panel==3 && datum.series!='Historical'"}],"mark":{"type":"line","strokeWidth":3.5,"strokeCap":"round","strokeJoin":"round"},
    "encoding":{"x":{"field":"x","type":"quantitative","scale":{"domain":[0,5000],"nice":false,"zero":false},"axis":{"title":"Annual Average TSS Load [Mg]","values":[0,1000,2000,3000,4000,5000]}},
     "y":{"field":"p","type":"quantitative","scale":{"domain":[0,1],"nice":false,"zero":false},"axis":{"title":"Cumulative Probability","values":[0,0.1,0.2,0.3,0.4,0.5,0.6,0.7,0.8,0.9,1],"format":"~g","labelOverlap":false,"tickCount":11}},
     "color":{"field":"series","type":"nominal","scale":{"domain":["fio-esm","giss-e2-r","hadgem2-es","ipsl-cm5a-mr","Historical"],"range":["#4472C4","#70AD47","#C55A11","#FFC000","#000000"]}},
     "order":{"field":"p","sort":"descending"}}},
   {"data":{"name":"curves"},"transform":[{"filter":"datum.panel==3 && datum.series=='Historical'"}],"mark":{"type":"line","strokeWidth":5,"strokeCap":"round","strokeJoin":"round"},
    "encoding":{"x":{"field":"x","type":"quantitative","scale":{"domain":[0,5000],"nice":false,"zero":false}},"y":{"field":"p","type":"quantitative","scale":{"domain":[0,1],"nice":false,"zero":false}},
     "color":{"field":"series","type":"nominal","scale":{"domain":["fio-esm","giss-e2-r","hadgem2-es","ipsl-cm5a-mr","Historical"],"range":["#4472C4","#70AD47","#C55A11","#FFC000","#000000"]}},"order":{"field":"p","sort":"descending"}}},
   {"data":{"name":"refs"},"transform":[{"filter":"datum.panel==3"}],"mark":{"type":"rule","color":"#000000","strokeWidth":1},
    "encoding":{"x":{"field":"x","type":"quantitative","scale":{"domain":[0,5000],"nice":false,"zero":false}},"x2":{"field":"xe"},"y":{"field":"p","type":"quantitative","scale":{"domain":[0,1],"nice":false,"zero":false}}}},
   {"data":{"name":"arrows"},"transform":[{"filter":"datum.panel==3"}],"mark":{"type":"rule","color":"#000000","strokeWidth":5},
    "encoding":{"x":{"field":"x","type":"quantitative","scale":{"domain":[0,5000],"nice":false,"zero":false}},"x2":{"field":"xe"},"y":{"field":"p","type":"quantitative","scale":{"domain":[0,1],"nice":false,"zero":false}}}},
   {"data":{"name":"arrows"},"transform":[{"filter":"datum.panel==3"}],"mark":{"type":"point","filled":true,"opacity":1,"color":"#000000","size":900,"shape":"M0,0L1,-0.5L1,0.5Z"},
    "encoding":{"x":{"field":"x","type":"quantitative","scale":{"domain":[0,5000],"nice":false,"zero":false}},"y":{"field":"p","type":"quantitative","scale":{"domain":[0,1],"nice":false,"zero":false}}}},
   {"data":{"name":"arrows"},"transform":[{"filter":"datum.panel==3"}],"mark":{"type":"point","filled":true,"opacity":1,"color":"#000000","size":900,"shape":"M0,0L-1,-0.5L-1,0.5Z"},
    "encoding":{"x":{"field":"xe","type":"quantitative","scale":{"domain":[0,5000],"nice":false,"zero":false}},"y":{"field":"p","type":"quantitative","scale":{"domain":[0,1],"nice":false,"zero":false}}}},
   {"data":{"name":"notes"},"transform":[{"filter":"datum.panel==3"}],"mark":{"type":"text"},
    "encoding":{"x":{"field":"x","type":"quantitative","scale":{"domain":[0,5000],"nice":false,"zero":false}},"y":{"field":"p","type":"quantitative","scale":{"domain":[0,1],"nice":false,"zero":false}},"text":{"field":"t"}}}
  ]},
  {"width":455,"height":393,"layer":[
   {"data":{"name":"curves"},"transform":[{"filter":"datum.panel==4 && datum.series!='Historical'"}],"mark":{"type":"line","strokeWidth":3.5,"strokeCap":"round","strokeJoin":"round"},
    "encoding":{"x":{"field":"x","type":"quantitative","scale":{"domain":[0,15000],"nice":false,"zero":false},"axis":{"title":"Annual Average TN Load [kg]","values":[0,5000,10000,15000]}},
     "y":{"field":"p","type":"quantitative","scale":{"domain":[0,1],"nice":false,"zero":false},"axis":{"title":"Cumulative Probability","values":[0,0.1,0.2,0.3,0.4,0.5,0.6,0.7,0.8,0.9,1],"format":"~g","labelOverlap":false,"tickCount":11}},
     "color":{"field":"series","type":"nominal","scale":{"domain":["fio-esm","giss-e2-r","hadgem2-es","ipsl-cm5a-mr","Historical"],"range":["#4472C4","#70AD47","#C55A11","#FFC000","#000000"]}},
     "order":{"field":"p","sort":"descending"}}},
   {"data":{"name":"curves"},"transform":[{"filter":"datum.panel==4 && datum.series=='Historical'"}],"mark":{"type":"line","strokeWidth":5,"strokeCap":"round","strokeJoin":"round"},
    "encoding":{"x":{"field":"x","type":"quantitative","scale":{"domain":[0,15000],"nice":false,"zero":false}},"y":{"field":"p","type":"quantitative","scale":{"domain":[0,1],"nice":false,"zero":false}},
     "color":{"field":"series","type":"nominal","scale":{"domain":["fio-esm","giss-e2-r","hadgem2-es","ipsl-cm5a-mr","Historical"],"range":["#4472C4","#70AD47","#C55A11","#FFC000","#000000"]}},"order":{"field":"p","sort":"descending"}}},
   {"data":{"name":"refs"},"transform":[{"filter":"datum.panel==4"}],"mark":{"type":"rule","color":"#000000","strokeWidth":1},
    "encoding":{"x":{"field":"x","type":"quantitative","scale":{"domain":[0,15000],"nice":false,"zero":false}},"x2":{"field":"xe"},"y":{"field":"p","type":"quantitative","scale":{"domain":[0,1],"nice":false,"zero":false}}}},
   {"data":{"name":"arrows"},"transform":[{"filter":"datum.panel==4"}],"mark":{"type":"rule","color":"#000000","strokeWidth":5},
    "encoding":{"x":{"field":"x","type":"quantitative","scale":{"domain":[0,15000],"nice":false,"zero":false}},"x2":{"field":"xe"},"y":{"field":"p","type":"quantitative","scale":{"domain":[0,1],"nice":false,"zero":false}}}},
   {"data":{"name":"arrows"},"transform":[{"filter":"datum.panel==4"}],"mark":{"type":"point","filled":true,"opacity":1,"color":"#000000","size":900,"shape":"M0,0L1,-0.5L1,0.5Z"},
    "encoding":{"x":{"field":"x","type":"quantitative","scale":{"domain":[0,15000],"nice":false,"zero":false}},"y":{"field":"p","type":"quantitative","scale":{"domain":[0,1],"nice":false,"zero":false}}}},
   {"data":{"name":"arrows"},"transform":[{"filter":"datum.panel==4"}],"mark":{"type":"point","filled":true,"opacity":1,"color":"#000000","size":900,"shape":"M0,0L-1,-0.5L-1,0.5Z"},
    "encoding":{"x":{"field":"xe","type":"quantitative","scale":{"domain":[0,15000],"nice":false,"zero":false}},"y":{"field":"p","type":"quantitative","scale":{"domain":[0,1],"nice":false,"zero":false}}}},
   {"data":{"name":"notes"},"transform":[{"filter":"datum.panel==4"}],"mark":{"type":"text"},
    "encoding":{"x":{"field":"x","type":"quantitative","scale":{"domain":[0,15000],"nice":false,"zero":false}},"y":{"field":"p","type":"quantitative","scale":{"domain":[0,1],"nice":false,"zero":false}},"text":{"field":"t"}}}
  ]}
]
}
